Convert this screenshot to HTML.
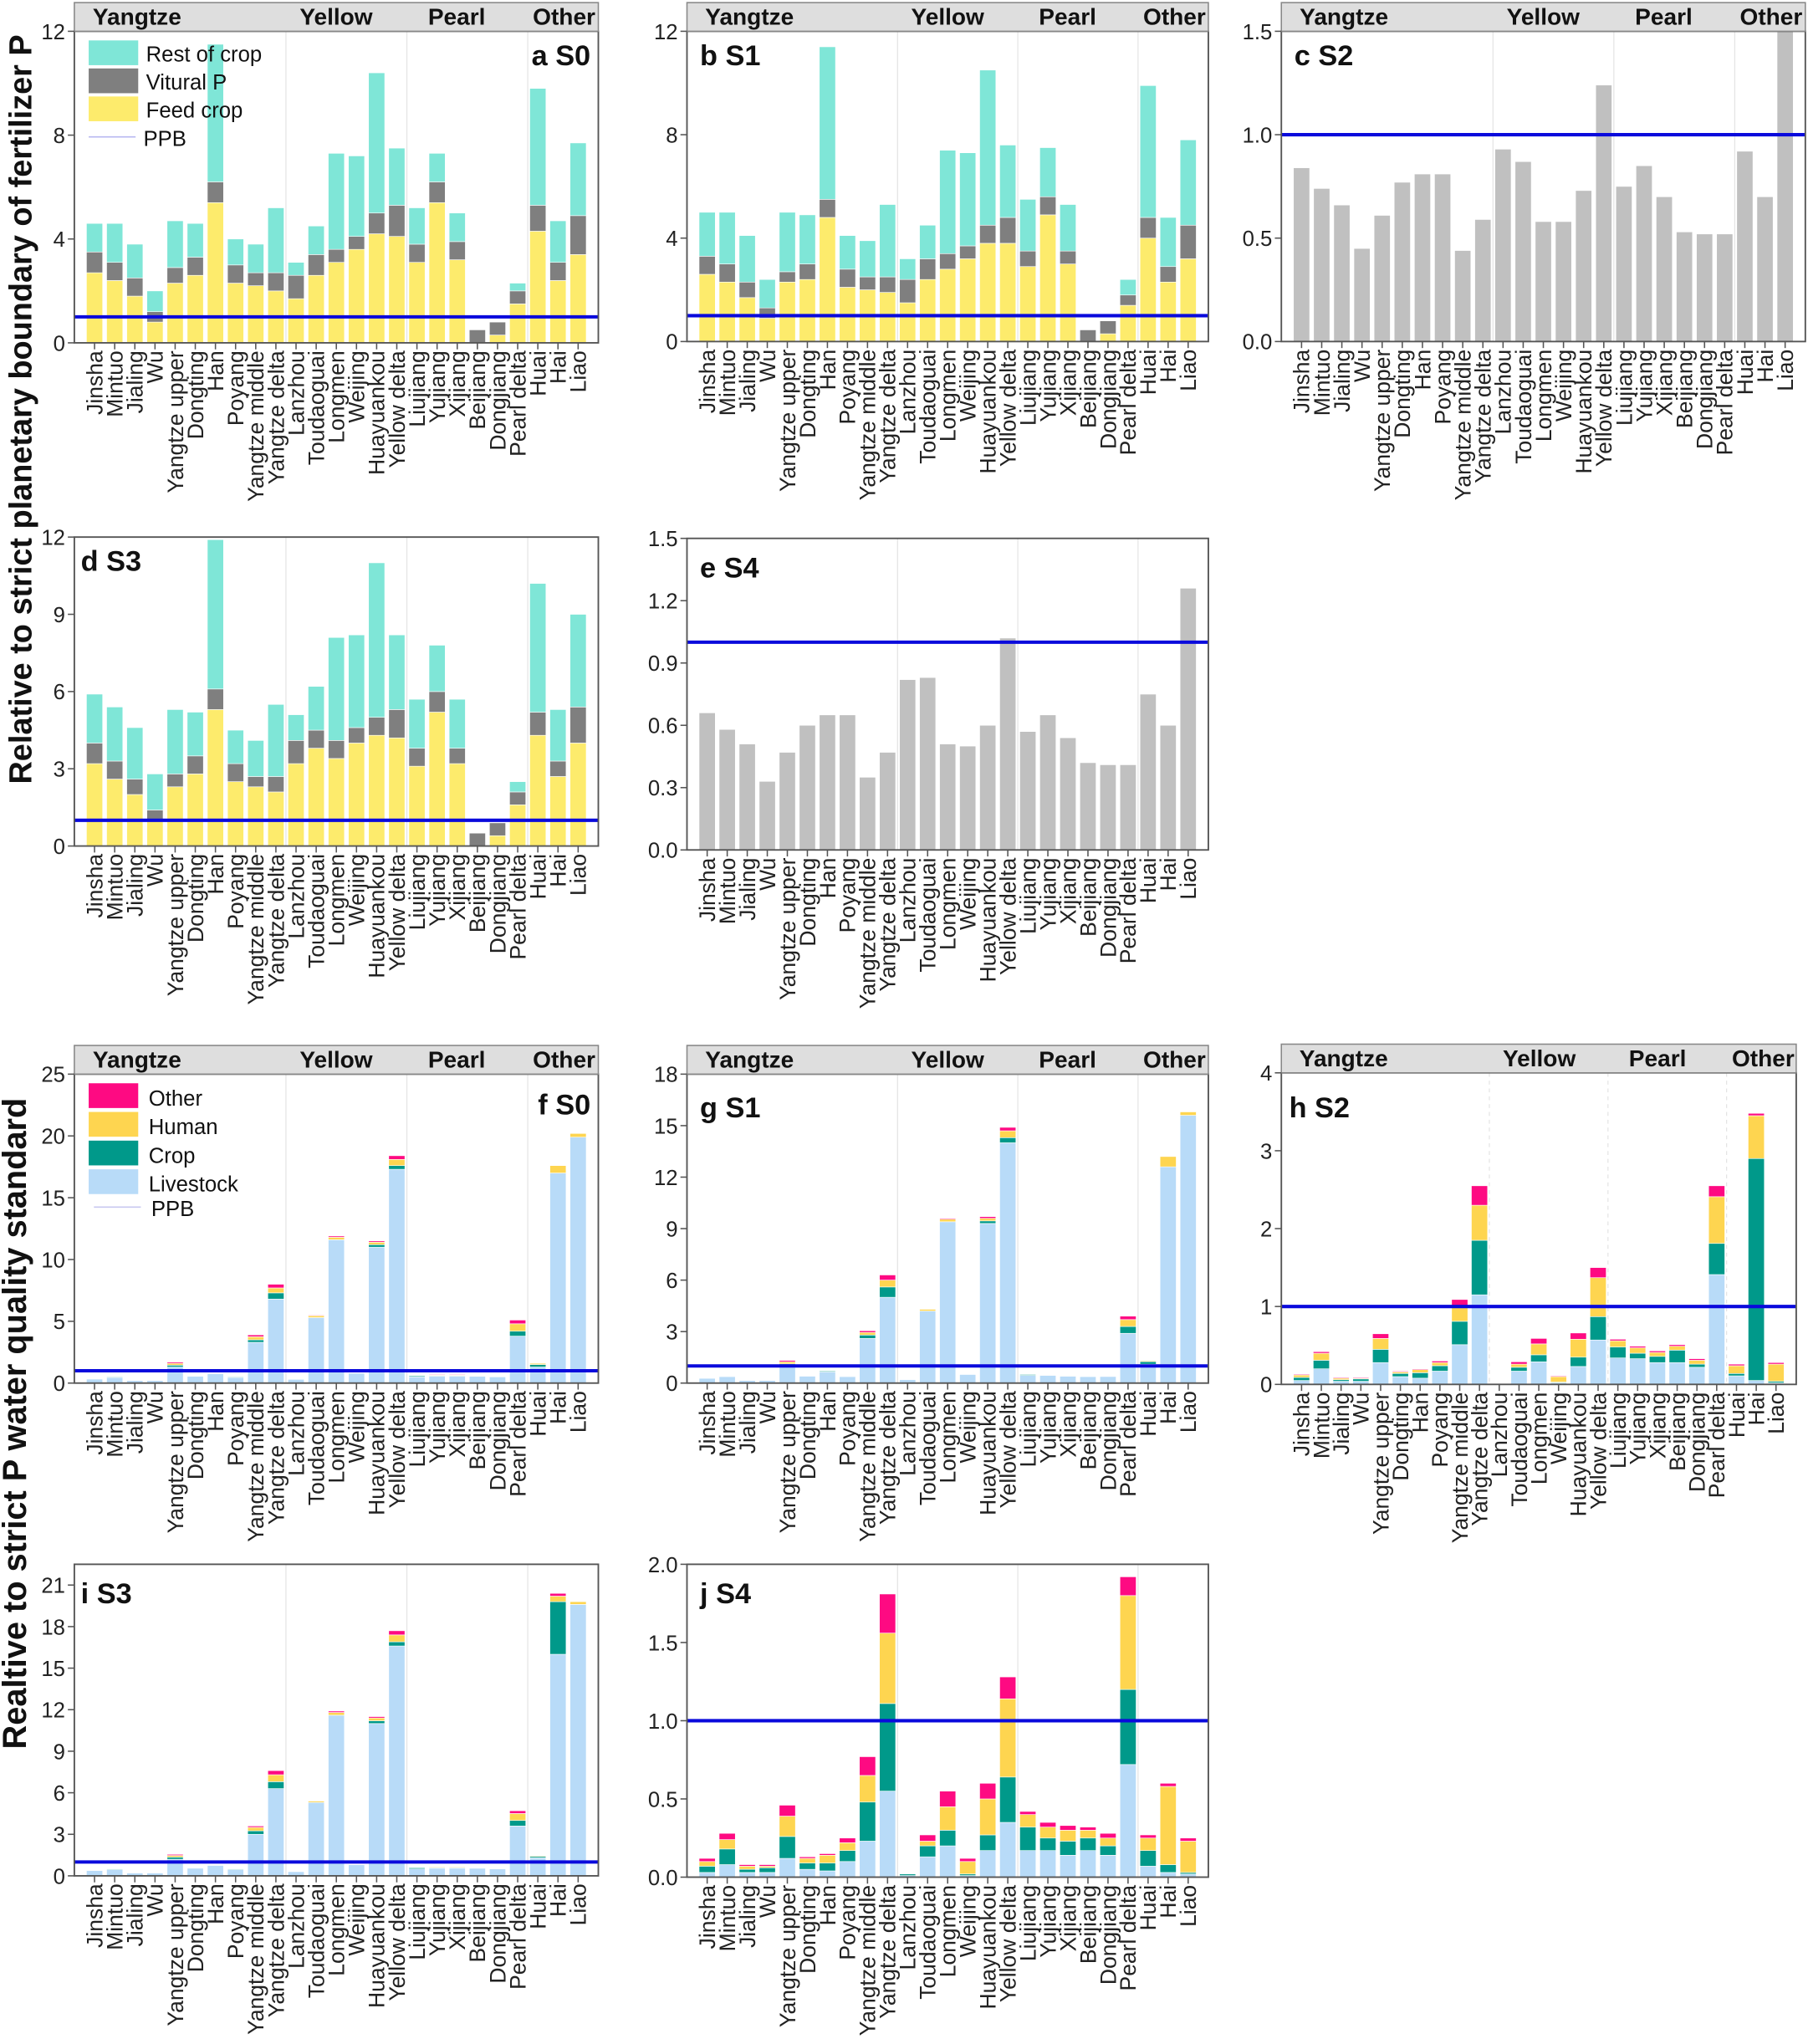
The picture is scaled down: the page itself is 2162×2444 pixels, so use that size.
<!DOCTYPE html>
<html><head><meta charset="utf-8"><style>html,body{margin:0;padding:0;background:#fff}svg{display:block}</style></head>
<body>
<svg id="s" xmlns="http://www.w3.org/2000/svg" width="2162" height="2444" viewBox="0 0 1387 1568" font-family="Liberation Sans, Arial, sans-serif"></svg>
<script>
const cats=["Jinsha","Mintuo","Jialing","Wu","Yangtze upper","Dongting","Han","Poyang","Yangtze middle","Yangtze delta","Lanzhou","Toudaoguai","Longmen","Weijing","Huayuankou","Yellow delta","Liujiang","Yujiang","Xijiang","Beijiang","Dongjiang","Pearl delta","Huai","Hai","Liao"];
const C={y:"#fdeb6c",g:"#7f7f7f",c:"#7fe6d7",gr:"#c0c0c0",liv:"#b8dbf8",crop:"#00998a",hum:"#fed550",oth:"#fe0a82"};
let out="";
function cum(arr){return arr.map(r=>{return [r[0],r[1]-r[0],r[2]-r[1]]});}
const aS0=[[2.7,3.5,4.6],[2.4,3.1,4.6],[1.8,2.5,3.8],[0.8,1.2,2.0],[2.3,2.9,4.7],[2.6,3.3,4.6],[5.4,6.2,11.5],[2.3,3.0,4.0],[2.2,2.7,3.8],[2.0,2.7,5.2],[1.7,2.6,3.1],[2.6,3.4,4.5],[3.1,3.6,7.3],[3.6,4.1,7.2],[4.2,5.0,10.4],[4.1,5.3,7.5],[3.1,3.8,5.2],[5.4,6.2,7.3],[3.2,3.9,5.0],[0,0.5,0.5],[0.3,0.8,0.8],[1.5,2.0,2.3],[4.3,5.3,9.8],[2.4,3.1,4.7],[3.4,4.9,7.7]];
const bS1=[[2.6,3.3,5.0],[2.3,3.0,5.0],[1.7,2.3,4.1],[0.9,1.3,2.4],[2.3,2.7,5.0],[2.4,3.0,4.9],[4.8,5.5,11.4],[2.1,2.8,4.1],[2.0,2.5,3.9],[1.9,2.5,5.3],[1.5,2.4,3.2],[2.4,3.2,4.5],[2.8,3.4,7.4],[3.2,3.7,7.3],[3.8,4.5,10.5],[3.8,4.8,7.6],[2.9,3.5,5.5],[4.9,5.6,7.5],[3.0,3.5,5.3],[0,0.45,0.45],[0.3,0.8,0.8],[1.4,1.8,2.4],[4.0,4.8,9.9],[2.3,2.9,4.8],[3.2,4.5,7.8]];
const dS3=[[3.2,4.0,5.9],[2.6,3.3,5.4],[2.0,2.6,4.6],[1.0,1.4,2.8],[2.3,2.8,5.3],[2.8,3.5,5.2],[5.3,6.1,11.9],[2.5,3.2,4.5],[2.3,2.7,4.1],[2.1,2.7,5.5],[3.2,4.1,5.1],[3.8,4.5,6.2],[3.4,4.1,8.1],[4.0,4.6,8.2],[4.3,5.0,11.0],[4.2,5.3,8.2],[3.1,3.8,5.7],[5.2,6.0,7.8],[3.2,3.8,5.7],[0,0.5,0.5],[0.4,0.9,0.9],[1.6,2.1,2.5],[4.3,5.2,10.2],[2.7,3.3,5.3],[4.0,5.4,9.0]];
const cS2=[0.84,0.74,0.66,0.45,0.61,0.77,0.81,0.81,0.44,0.59,0.93,0.87,0.58,0.58,0.73,1.24,0.75,0.85,0.70,0.53,0.52,0.52,0.92,0.70,1.5];
const eS4=[0.66,0.58,0.51,0.33,0.47,0.60,0.65,0.65,0.35,0.47,0.82,0.83,0.51,0.50,0.60,1.02,0.57,0.65,0.54,0.42,0.41,0.41,0.75,0.60,1.26];
const fS0=[[.33,.02,0,0],[.45,.05,0,0],[.2,0,0,0],[.2,0,0,0],[1.3,.15,.15,.1],[.55,0,0,0],[.75,0,0,0],[.45,.05,0,0],[3.3,.2,.25,.15],[6.8,.5,.4,.3],[.3,0,0,0],[5.3,0,.15,.05],[11.6,0,.2,.1],[.8,0,0,0],[11.0,.2,.2,.1],[17.3,.3,.5,.3],[.5,.08,0,0],[.55,.05,.05,.05],[.55,.05,.05,.05],[.55,0,.03,0],[.5,0,0,0],[3.8,.4,.6,.3],[1.3,.2,.1,0],[17.0,0,.6,0],[19.9,0,.3,0]];
const gS1=[[.28,.02,0,0],[.38,.03,0,0],[.15,0,0,0],[.15,0,0,0],[1.0,.12,.12,.08],[.4,0,0,0],[.65,.05,0,0],[.38,.03,0,0],[2.6,.2,.15,.1],[5.0,.6,.4,.3],[.2,0,0,0],[4.2,0,.1,0],[9.4,0,.15,.05],[.5,0,0,0],[9.3,.15,.15,.1],[14.0,.3,.4,.2],[.45,.05,0,0],[.45,.03,.02,0],[.4,.03,0,0],[.38,0,.02,0],[.38,0,0,0],[2.9,.4,.4,.2],[1.1,.15,.05,0],[12.6,0,.6,0],[15.6,0,.2,0]];
const hS2=[[.05,.04,.03,.01],[.2,.11,.09,.02],[.04,.02,.02,.01],[.04,.03,.01,.01],[.28,.17,.14,.06],[.1,.04,.02,.01],[.08,.07,.04,.01],[.17,.07,.04,.02],[.51,.3,.18,.1],[1.15,.7,.45,.25],[0,0,0,0],[.17,.05,.04,.03],[.29,.09,.14,.07],[.02,.01,.07,.01],[.23,.12,.23,.08],[.57,.3,.5,.13],[.34,.14,.08,.02],[.33,.07,.07,.02],[.28,.08,.05,.02],[.28,.16,.05,.02],[.22,.04,.05,.02],[1.41,.4,.6,.14],[.11,.03,.1,.02],[.05,2.85,.55,.03],[.02,.02,.22,.02]];
const iS3=[[.38,.02,0,0],[.45,.05,0,0],[.2,0,0,0],[.2,0,0,0],[1.2,.15,.12,.08],[.55,0,0,0],[.75,0,0,0],[.45,.05,0,0],[3.0,.25,.25,.1],[6.3,.5,.5,.3],[.3,0,0,0],[5.3,0,.1,0],[11.6,0,.2,.1],[.8,0,0,0],[11.0,.2,.2,.1],[16.6,.3,.5,.3],[.5,.08,0,0],[.55,.05,.05,0],[.55,.05,.05,0],[.55,0,.03,0],[.5,0,0,0],[3.6,.4,.5,.2],[1.3,.1,.05,0],[16.0,3.8,.4,.2],[19.6,0,.2,0]];
const jS4=[[.03,.04,.03,.02],[.08,.1,.06,.04],[.03,.02,.02,.01],[.03,.03,.01,.01],[.12,.14,.13,.07],[.05,.04,.03,.01],[.04,.05,.05,.01],[.1,.07,.05,.03],[.23,.25,.17,.12],[.55,.56,.45,.25],[.01,.01,0,0],[.13,.07,.03,.04],[.2,.1,.15,.1],[.01,.01,.08,.02],[.17,.1,.23,.1],[.35,.29,.5,.14],[.17,.15,.08,.02],[.17,.08,.07,.03],[.14,.09,.07,.03],[.17,.08,.05,.02],[.14,.06,.05,.03],[.72,.48,.6,.12],[.07,.1,.08,.02],[.03,.05,.5,.02],[.02,.01,.2,.02]];

function panel(p){
  const {x0,x1,top,bot,max,ticks,hdr,label,lx,ly,data,cols,fmt}=p;
  const y0=bot; const k=(bot-top)/max; const Y=v=>y0-v*k;
  const sp=(x1-x0-31)/24, cx=i=>x0+15.5+i*sp, bw=12.4;
  [9.5,15.5,21.5].forEach(b=>{const xx=(cx(Math.floor(b))+cx(Math.ceil(b)))/2;out+=`<line x1="${xx}" y1="${top}" x2="${xx}" y2="${bot}" stroke="#e4e4e4" stroke-width="0.8" stroke-dasharray="${hdr&&max<5&&cols.length==4?'3,3':''}"/>`});
  data.forEach((r,i)=>{let acc=0;r.forEach((v,j)=>{if(v>0){const h=Math.min(v,max-acc)*k;if(h>0)out+=`<rect x="${cx(i)-bw/2}" y="${Y(acc)-h}" width="${bw}" height="${h}" fill="${cols[j]}" stroke="#fff" stroke-width="0.4"/>`;}acc+=v;});});
  out+=`<line x1="${x0}" y1="${Y(1)}" x2="${x1}" y2="${Y(1)}" stroke="#0a0adc" stroke-width="2.6"/>`;
  out+=`<rect x="${x0}" y="${top}" width="${x1-x0}" height="${bot-top}" fill="none" stroke="#555" stroke-width="1.2"/>`;
  if(hdr){out+=`<rect x="${x0}" y="${top-22}" width="${x1-x0}" height="22" fill="#dedede" stroke="#888" stroke-width="1"/>`;
    const w=x1-x0;[["Yangtze",0.035],["Yellow",0.43],["Pearl",0.675],["Other",0.875]].forEach(([t,f])=>{out+=`<text x="${x0+w*f}" y="${top-5}" font-size="18" font-weight="bold" fill="#111">${t}</text>`});}
  ticks.forEach(t=>{out+=`<line x1="${x0-5}" y1="${Y(t)}" x2="${x0}" y2="${Y(t)}" stroke="#555"/><text x="${x0-7}" y="${Y(t)+6}" font-size="16.5" text-anchor="end" fill="#222">${fmt?t.toFixed(1):t}</text>`});
  cats.forEach((c,i)=>{out+=`<line x1="${cx(i)}" y1="${bot}" x2="${cx(i)}" y2="${bot+5}" stroke="#555"/><text transform="translate(${cx(i)+6},${bot+6}) rotate(-90)" font-size="17" text-anchor="end" fill="#222">${c}</text>`});
  out+=`<text x="${lx}" y="${ly}" font-size="22" font-weight="bold" text-anchor="${p.anchor||'start'}" fill="#111">${label}</text>`;
}
const P3=[C.y,C.g,C.c], W4=[C.liv,C.crop,C.hum,C.oth];
panel({x0:57,x1:459,top:24,bot:263,max:12,ticks:[0,4,8,12],hdr:1,label:"a S0",lx:453,ly:50,anchor:"end",data:cum(aS0),cols:P3});
panel({x0:527,x1:927,top:24,bot:262,max:12,ticks:[0,4,8,12],hdr:1,label:"b S1",lx:537,ly:50,data:cum(bS1),cols:P3});
panel({x0:983,x1:1385,top:24,bot:262,max:1.5,ticks:[0,0.5,1,1.5],hdr:1,fmt:1,label:"c S2",lx:993,ly:50,data:cS2.map(v=>[v]),cols:[C.gr]});
panel({x0:57,x1:459,top:412,bot:649,max:12,ticks:[0,3,6,9,12],label:"d S3",lx:62,ly:438,data:cum(dS3),cols:P3});
panel({x0:527,x1:927,top:413,bot:652,max:1.5,ticks:[0,0.3,0.6,0.9,1.2,1.5],fmt:1,label:"e S4",lx:537,ly:443,data:eS4.map(v=>[v]),cols:[C.gr]});
panel({x0:57,x1:459,top:824,bot:1061,max:25,ticks:[0,5,10,15,20,25],hdr:1,label:"f S0",lx:453,ly:855,anchor:"end",data:fS0,cols:W4});
panel({x0:527,x1:927,top:824,bot:1061,max:18,ticks:[0,3,6,9,12,15,18],hdr:1,label:"g S1",lx:537,ly:857,data:gS1,cols:W4});
panel({x0:983,x1:1378,top:823,bot:1062,max:4,ticks:[0,1,2,3,4],hdr:1,label:"h S2",lx:989,ly:857,data:hS2,cols:W4});
panel({x0:57,x1:459,top:1200,bot:1439,max:22.5,ticks:[0,3,6,9,12,15,18,21],label:"i S3",lx:62,ly:1230,data:iS3,cols:W4});
panel({x0:527,x1:927,top:1200,bot:1440,max:2,ticks:[0,0.5,1,1.5,2],fmt:1,label:"j S4",lx:537,ly:1230,data:jS4,cols:W4});
[["Rest of crop",C.c],["Vitural P",C.g],["Feed crop",C.y]].forEach(([t,c],i)=>{out+=`<rect x="68" y="${31+i*21.5}" width="38" height="19" fill="${c}"/><text x="112" y="${47+i*21.5}" font-size="16.5" fill="#111">${t}</text>`});
out+=`<line x1="68" y1="105" x2="104" y2="105" stroke="#b8b8f0" stroke-width="1"/><text x="110" y="112" font-size="16.5" fill="#111">PPB</text>`;
[["Other",C.oth],["Human",C.hum],["Crop",C.crop],["Livestock",C.liv]].forEach(([t,c],i)=>{out+=`<rect x="68" y="${831+i*22}" width="38" height="19" fill="${c}"/><text x="114" y="${848+i*22}" font-size="16.5" fill="#111">${t}</text>`});
out+=`<line x1="72" y1="926" x2="108" y2="926" stroke="#c8c8f0" stroke-width="1"/><text x="116" y="933" font-size="16.5" fill="#111">PPB</text>`;
out+=`<text transform="translate(24,314) rotate(-90)" font-size="24.3" font-weight="bold" text-anchor="middle" fill="#111">Relative to strict planetary boundary of fertilizer P</text>`;
out+=`<text transform="translate(20,1092) rotate(-90)" font-size="25.5" font-weight="bold" text-anchor="middle" fill="#111">Realtive to strict P water quality standard</text>`;
document.getElementById("s").innerHTML=out;
</script>
</body></html>
